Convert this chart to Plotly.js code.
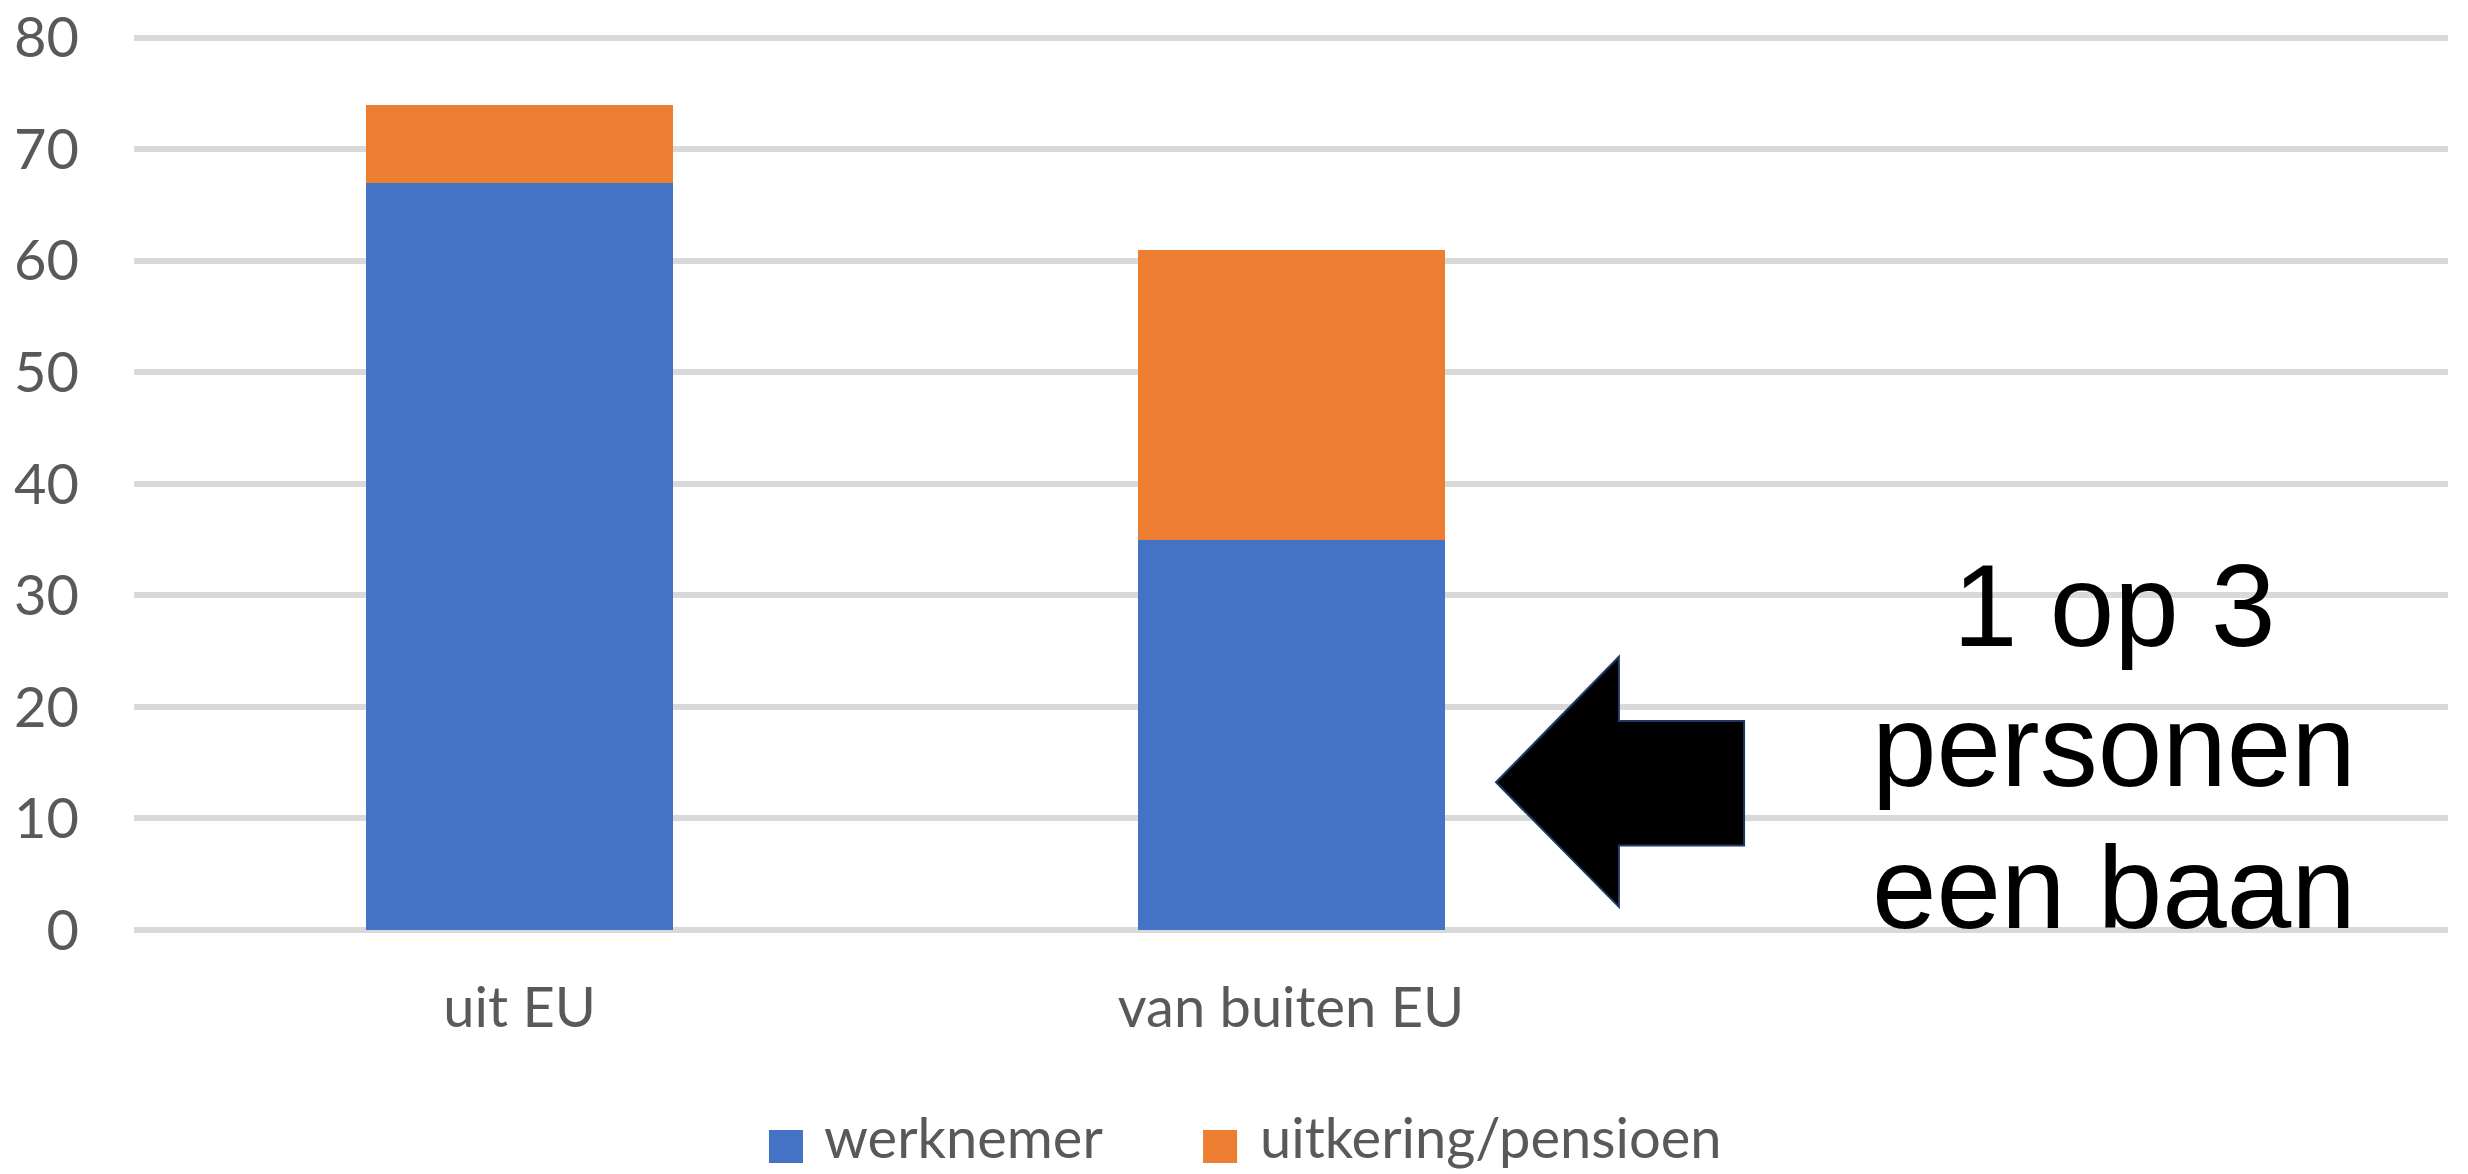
<!DOCTYPE html>
<html>
<head>
<meta charset="utf-8">
<script src="https://cdn.plot.ly/plotly-3.0.1.min.js"></script>
<style>
  html, body { margin: 0; padding: 0; background: #ffffff; }
  #chart { width: 2468px; height: 1174px; }
</style>
</head>
<body>
<div id="chart"></div>
<script>
// ---- data ----
const categories = ["uit EU", "van buiten EU"];
const seriesNames = ["werknemer", "uitkering/pensioen"];
const werknemer = [67, 35];
const uitkering = [7, 26];
const yTicks = [0, 10, 20, 30, 40, 50, 60, 70, 80];
const calloutLines = ["1 op 3", "personen", "een baan"];

// ---- styles ----
const colors = ["#4472c4", "#ed7d31"];
const tickFont = { family: "Lato, 'Open Sans', sans-serif", size: 56, color: "#595959" };

const traces = [
  { type: "bar", name: seriesNames[0], x: categories, y: werknemer,
    marker: { color: colors[0] }, hoverinfo: "x+y+name" },
  { type: "bar", name: seriesNames[1], x: categories, y: uitkering,
    marker: { color: colors[1] }, hoverinfo: "x+y+name" }
];

// custom legend (large square swatches like the original)
const legendX = [[0.2744, 0.2891, 0.2973], [0.4620, 0.4767, 0.4857]];
const shapes = [];
const annotations = [];
seriesNames.forEach((n, i) => {
  shapes.push({ type: "rect", xref: "paper", yref: "paper",
    x0: legendX[i][0], x1: legendX[i][1], y0: -0.2589, y1: -0.2221,
    fillcolor: colors[i], line: { width: 0 } });
  annotations.push({ xref: "paper", yref: "paper", x: legendX[i][2], y: -0.2299,
    xanchor: "left", yanchor: "middle", showarrow: false, text: n,
    font: { family: "Lato, 'Open Sans', sans-serif", size: 56, color: "#595959" } });
});

// arrow (callout graphic)
shapes.push({ type: "path", xref: "paper", yref: "paper",
  path: "M0.5886,0.1641 L0.6417,0.3036 L0.6417,0.2321 L0.6958,0.2321 L0.6958,0.0938 L0.6417,0.0938 L0.6417,0.0257 Z",
  fillcolor: "#000000", line: { color: "#203864", width: 2 } });

// callout text
const calloutY = [0.3605, 0.2042, 0.0469];
calloutLines.forEach((t, i) => {
  annotations.push({ xref: "paper", yref: "paper", x: 0.8557, y: calloutY[i],
    xanchor: "center", yanchor: "middle", showarrow: false, text: t,
    font: { family: "'Liberation Sans', Arial, sans-serif", size: 116, color: "#000000" } });
});

const layout = {
  width: 2468, height: 1174,
  margin: { l: 134, r: 20, t: 30, b: 244, pad: 0 },
  paper_bgcolor: "#ffffff", plot_bgcolor: "#ffffff",
  barmode: "stack", bargap: 0.602,
  showlegend: false,
  xaxis: { type: "category", range: [-0.5, 2.5], showgrid: false, showline: false,
    zeroline: false, ticks: "", tickfont: tickFont, ticklabelstandoff: 40, fixedrange: true },
  yaxis: { range: [0, 80.7], tickvals: yTicks, showgrid: true, gridcolor: "#d9d9d9", gridwidth: 6,
    zeroline: true, zerolinecolor: "#d9d9d9", zerolinewidth: 6, showline: false, ticks: "",
    tickfont: tickFont, ticklabelstandoff: 54, ticklabeloverflow: "allow", fixedrange: true },
  shapes: shapes,
  annotations: annotations
};

Plotly.newPlot("chart", traces, layout, { displayModeBar: false, staticPlot: false });
</script>
</body>
</html>
